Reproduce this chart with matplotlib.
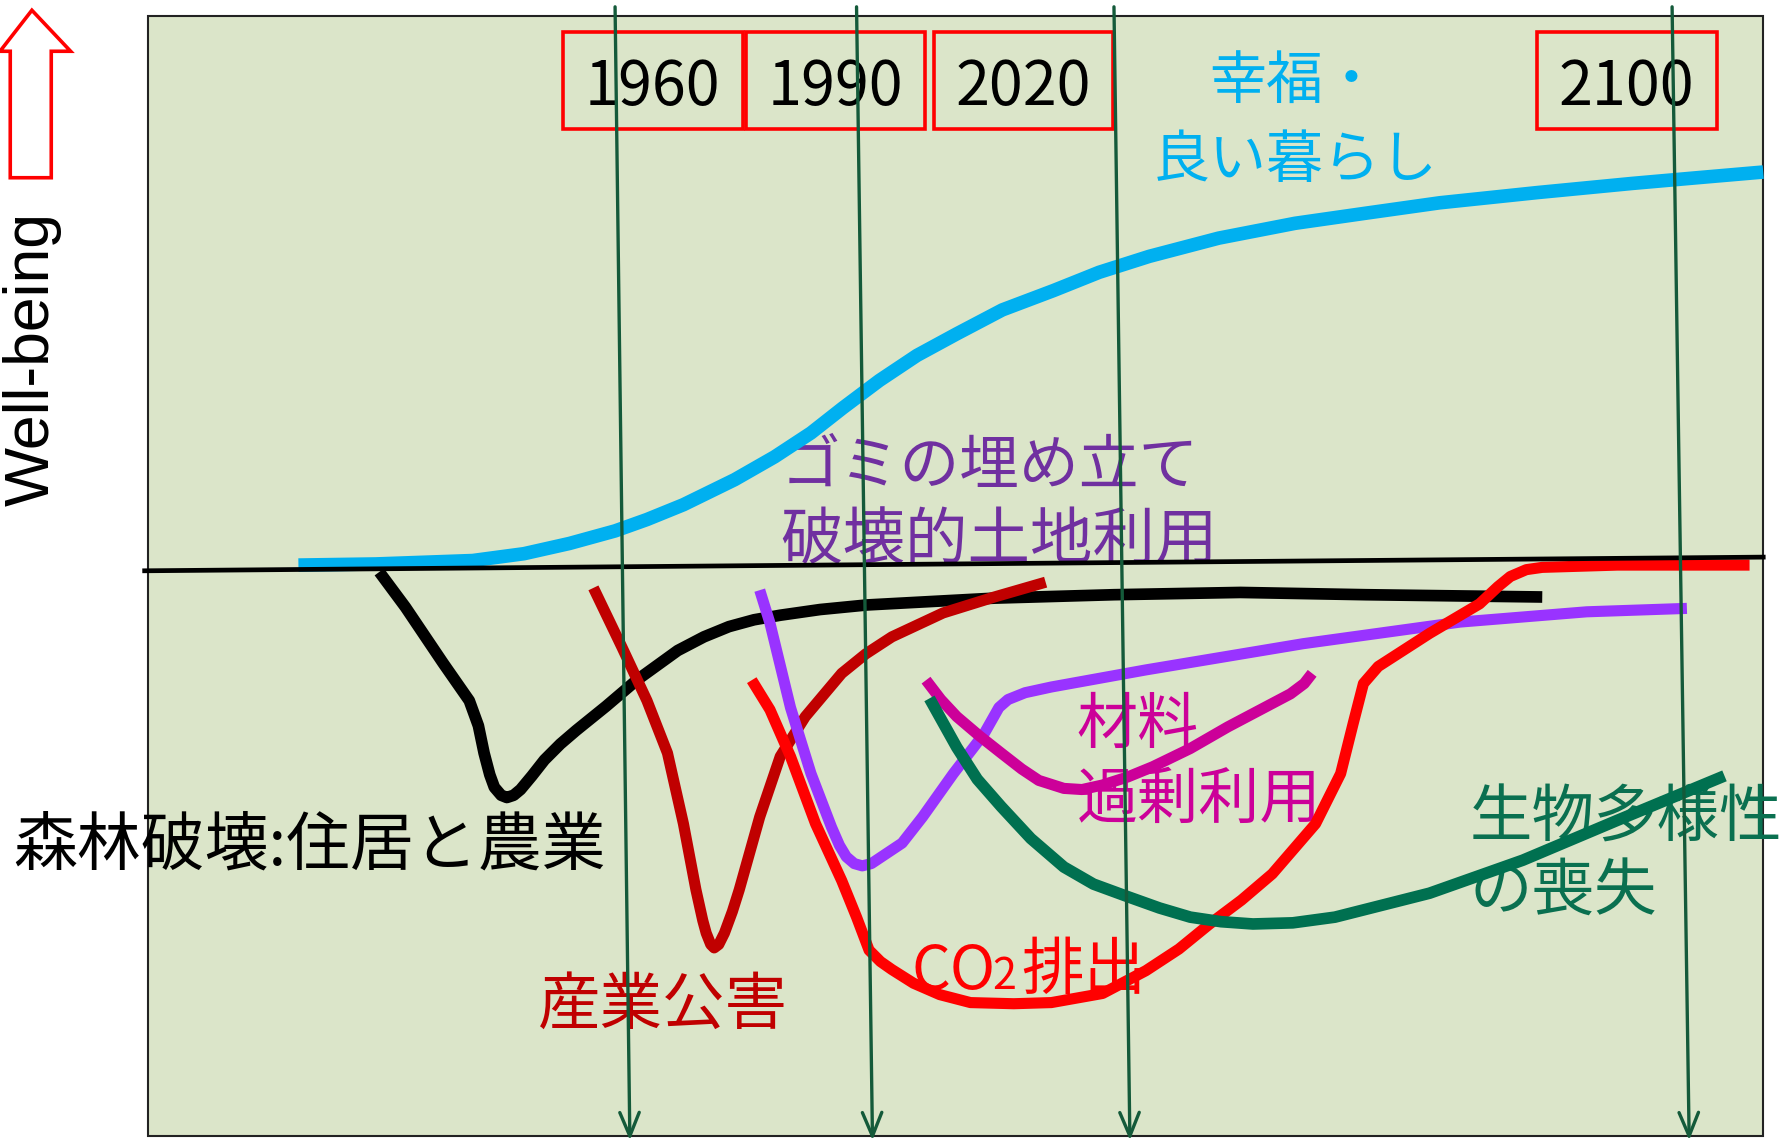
import matplotlib
matplotlib.use("Agg")
import matplotlib.pyplot as plt
from matplotlib.patches import Rectangle, Polygon

# ---------------- data (schematic units: x -> time, y -> down = worse well-being) ----------------
years = ["1960", "1990", "2020", "2100"]
year_line_top_x = [540, 752, 978, 1468]
year_line_bot_x = [553, 766, 992, 1483]
year_box_left = [494, 655, 820, 1349]
year_box_right = [652, 812, 977, 1507]

baseline_x = [127, 1548]
baseline_y = [501, 489]

wellbeing_x = [262, 330, 415, 460, 500, 540, 568, 600, 645, 680, 712, 740, 772, 805, 840, 880, 925,
               965, 1009, 1070, 1137, 1200, 1264, 1350, 1433, 1490, 1548]
wellbeing_y = [496, 495, 492, 486, 477, 466, 456, 443, 421, 401, 380, 358, 334, 312, 293, 272, 255,
               239, 225, 209, 196, 187, 178, 169, 161, 156, 151]

forest_x = [333, 356, 389, 412, 420, 425, 430, 434, 440, 445, 451, 457, 467, 478, 492, 506, 532,
            559, 595, 618, 640, 662, 685, 720, 761, 873, 978, 1089, 1199, 1354]
forest_y = [502, 533, 582, 615, 637, 661, 680, 691, 698, 700, 698, 693, 681, 667, 653, 641, 620,
            597, 571, 559, 550, 544, 540, 535, 531, 525, 522, 520, 522, 524]

pollution_x = [521, 546, 568, 586, 600, 611, 617, 620, 624, 627, 631, 636, 643, 649, 667, 685,
               707, 739, 760, 783, 828, 873, 918]
pollution_y = [516, 568, 615, 661, 723, 781, 808, 819, 829, 832, 829, 819, 800, 781, 717, 664,
               629, 591, 574, 559, 538, 524, 511]

landfill_x = [667, 676, 694, 712, 730, 737, 743, 750, 757, 765, 774, 792, 810, 837, 864, 877, 885,
              900, 923, 1006, 1144, 1282, 1393, 1481]
landfill_y = [518, 547, 621, 679, 726, 742, 752, 758, 760, 758, 752, 740, 717, 679, 644, 621, 614,
              608, 603, 588, 565, 546, 537, 534]

co2_x = [660, 676, 694, 716, 739, 752, 763, 773, 783, 802, 825, 852, 890, 923, 968, 1006, 1035,
         1062, 1090, 1117, 1155, 1177, 1188, 1197, 1210, 1255, 1299, 1315, 1326, 1340, 1354, 1420, 1536]
co2_y = [597, 623, 664, 723, 773, 805, 834, 844, 851, 863, 873, 880, 881, 880, 872, 852, 833,
         811, 790, 767, 723, 679, 635, 600, 585, 556, 530, 515, 506, 500, 498, 496, 496]

material_x = [813, 826, 840, 860, 879, 897, 912, 934, 950, 968, 990, 1012, 1045, 1078, 1133, 1145, 1152]
material_y = [597, 614, 629, 646, 661, 675, 685, 692, 693, 689, 682, 673, 657, 638, 609, 600, 591]

bio_x = [816, 840, 858, 879, 905, 934, 960, 990, 1018, 1045, 1072, 1100, 1135, 1172, 1255, 1337, 1420, 1514]
bio_y = [613, 656, 684, 708, 736, 761, 776, 787, 797, 805, 809, 811, 810, 805, 784, 755, 720, 681]

# ---------------- figure ----------------
W, H = 1568, 1005
fig = plt.figure(figsize=(17.86, 11.45), dpi=100)
ax = fig.add_axes([0, 0, 1, 1])
ax.set_xlim(0, W)
ax.set_ylim(H, 0)
ax.axis("off")

JP = ["Noto Sans CJK JP", "DejaVu Sans"]

# plot background box
ax.add_patch(Rectangle((130, 14), 1418, 983, facecolor="#dbe5c9", edgecolor="#222222",
                       lw=1.5, zorder=0))

# ---------------- texts ----------------
ax.text(1137, 106, "幸福・\n良い暮らし", color="#00b0f0", fontsize=41, family=JP,
        ha="center", va="center", linespacing=1.45, zorder=2)
ax.text(685, 410, "ゴミの埋め立て", color="#7030a0", fontsize=43, family=JP,
        ha="left", va="center", zorder=2)
ax.text(685, 475, "破壊的土地利用", color="#7030a0", fontsize=45, family=JP,
        ha="left", va="center", zorder=2)
ax.text(12, 743, "森林破壊:住居と農業", color="black", fontsize=46, family=JP,
        ha="left", va="center", zorder=2)
ax.text(472, 883, "産業公害", color="#c00000", fontsize=45, family=JP,
        ha="left", va="center", zorder=2)
ax.text(800, 868, "CO", color="#ff0000", fontsize=44, family=JP, ha="left", va="baseline", zorder=2)
ax.text(871, 868, "2", color="#ff0000", fontsize=31, family=JP, ha="left", va="baseline", zorder=2)
ax.text(897, 868, "排出", color="#ff0000", fontsize=45, family=JP, ha="left", va="baseline", zorder=2)
ax.text(945, 670, "材料\n過剰利用", color="#cc0099", fontsize=44, family=JP,
        ha="left", va="center", linespacing=1.25, zorder=2)
ax.text(1290, 751, "生物多様性\nの喪失", color="#0a7050", fontsize=45, family=JP,
        ha="left", va="center", linespacing=1.2, zorder=2)

ax.text(28, 315, "Well-being", color="black", fontsize=45, family=["Liberation Sans", "DejaVu Sans"],
        rotation=90, ha="center", va="center")

# red hollow up arrow
arrow_pts = [(28, 9), (62, 45), (45, 45), (45, 156), (9, 156), (9, 45), (0, 45)]
ax.add_patch(Polygon(arrow_pts, closed=True, facecolor="white", edgecolor="#ff0000", lw=2.6,
                     joinstyle="miter", zorder=3))

# ---------------- curves ----------------
def curve(x, y, color, lw):
    ax.plot(x, y, color=color, lw=lw, solid_joinstyle="round", solid_capstyle="butt", zorder=4)

curve(wellbeing_x, wellbeing_y, "#00b0f0", 9.8)
curve(forest_x, forest_y, "black", 8.4)
curve(pollution_x, pollution_y, "#c00000", 8.0)
curve(landfill_x, landfill_y, "#9933ff", 8.0)
curve(co2_x, co2_y, "#ff0000", 8.0)
curve(material_x, material_y, "#cc0099", 8.0)
curve(bio_x, bio_y, "#007050", 8.4)

ax.plot(baseline_x, baseline_y, color="black", lw=3.4, zorder=5)

# ---------------- year boxes and arrows ----------------
for lab, l, r in zip(years, year_box_left, year_box_right):
    ax.add_patch(Rectangle((l, 28), r - l, 85, facecolor="none", edgecolor="#ff0000", lw=2.6, zorder=5))
    ax.text((l + r) / 2, 77, lab, color="black", fontsize=44, family=JP, ha="center", va="center",
            zorder=5)

for xt, xb in zip(year_line_top_x, year_line_bot_x):
    ax.annotate("", xy=(xb, 1001), xytext=(xt, 6),
                arrowprops=dict(arrowstyle="->,head_length=0.85,head_width=0.35", color="#145a3a",
                                lw=2.4, shrinkA=0, shrinkB=0, mutation_scale=20),
                zorder=6)

fig.savefig("out.png", dpi=100, facecolor="white")
